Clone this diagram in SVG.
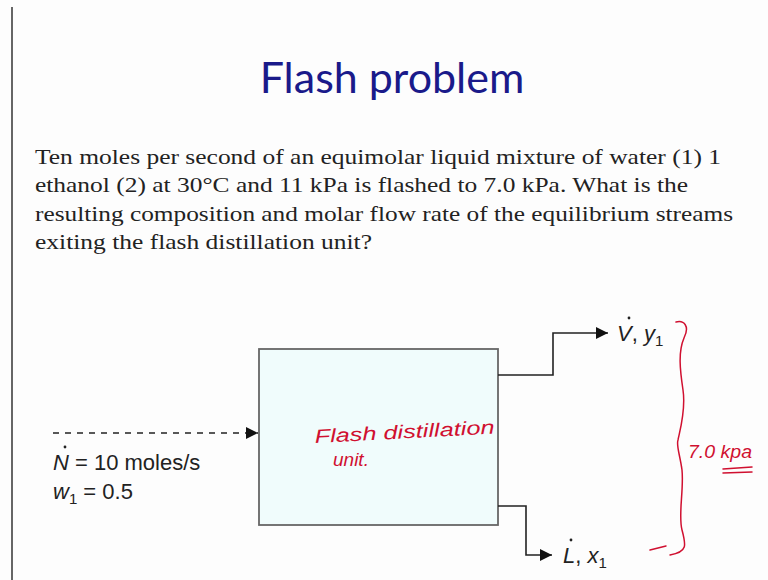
<svg xmlns="http://www.w3.org/2000/svg" width="768" height="580" viewBox="0 0 768 580">
<defs>
<marker id="ah" viewBox="0 0 10 10" refX="10" refY="5" markerWidth="12" markerHeight="12" markerUnits="userSpaceOnUse" orient="auto"><path d="M0,0 L10,5 L0,10 z" fill="#111"/></marker>
<style>
.para{font-family:"Liberation Serif",serif;font-size:22px;fill:#222}
.lab{font-family:"Liberation Sans",Arial,sans-serif;font-size:22px;fill:#222}
.hand{font-family:"Liberation Sans",sans-serif;font-style:italic;font-size:19px;fill:#d01030}
.conn{fill:none;stroke:#222;stroke-width:1.6}
.ink{fill:none;stroke:#d01030;stroke-width:1.5;stroke-linecap:round}
</style>
</defs>
<rect width="768" height="580" fill="#fdfdfd"/>
<line x1="12" y1="7" x2="12" y2="580" stroke="#333" stroke-width="1.5"/>
<text x="392" y="93" text-anchor="middle" font-family="Lato,'Open Sans',sans-serif" font-size="43" fill="#1a1a8a">Flash problem</text>
<g id="problem">
<text class="para" x="35" y="164" textLength="686" lengthAdjust="spacingAndGlyphs">Ten moles per second of an equimolar liquid mixture of water (1) 1</text>
<text class="para" x="35" y="192" textLength="653" lengthAdjust="spacingAndGlyphs">ethanol (2) at 30°C and 11 kPa is flashed to 7.0 kPa. What is the</text>
<text class="para" x="35" y="221" textLength="698" lengthAdjust="spacingAndGlyphs">resulting composition and molar flow rate of the equilibrium streams</text>
<text class="para" x="35" y="249" textLength="337" lengthAdjust="spacingAndGlyphs">exiting the flash distillation unit?</text>
</g>
<g id="flash-unit">
<rect x="259" y="349" width="239" height="176" fill="#f0fcfc" stroke="#666" stroke-width="1.8"/>
<text class="hand" x="315" y="443" transform="rotate(-3 315 443)" textLength="180" lengthAdjust="spacingAndGlyphs">Flash distillation</text>
<text class="hand" x="333" y="466" font-size="14">unit.</text>
</g>
<g id="feed">
<text class="lab" x="53" y="470"><tspan font-style="italic">N</tspan> = 10 moles/s</text>
<circle cx="65" cy="447" r="1.4" fill="#222"/>
<text class="lab" x="53" y="499"><tspan font-style="italic">w</tspan><tspan font-size="15" dy="5">1</tspan><tspan dy="-5"> = 0.5</tspan></text>
</g>
<g id="vapor">
<text class="lab" x="617" y="341"><tspan font-style="italic">V</tspan>, <tspan font-style="italic">y</tspan><tspan font-size="15" dy="5">1</tspan></text>
<circle cx="629" cy="318" r="1.4" fill="#222"/>
</g>
<g id="liquid">
<text class="lab" x="563" y="563"><tspan font-style="italic">L</tspan>, <tspan font-style="italic">x</tspan><tspan font-size="15" dy="5">1</tspan></text>
<circle cx="571" cy="540" r="1.4" fill="#222"/>
</g>
<g id="connectors">
<line class="conn" x1="53" y1="433" x2="258" y2="433" stroke-dasharray="6,6" marker-end="url(#ah)"/>
<polyline class="conn" points="498,375 553,375 553,333 608,333" marker-end="url(#ah)"/>
<polyline class="conn" points="498,506 526,506 526,555 552,555" marker-end="url(#ah)"/>
</g>
<g id="annotation">
<path class="ink" d="M676,322 C684,320 690,326 684,338 C678,352 680,370 683,390 C686,410 680,430 678,440 C676,445 680,455 682,470 C684,490 678,515 682,530 C686,545 688,552 670,555"/>
<path class="ink" d="M650,550 L666,546"/>
<text class="hand" x="688" y="458" font-size="16" textLength="64" lengthAdjust="spacingAndGlyphs">7.0 kpa</text>
<path class="ink" d="M723,469 L752,467 M723,473 L752,472"/>
</g>
</svg>
